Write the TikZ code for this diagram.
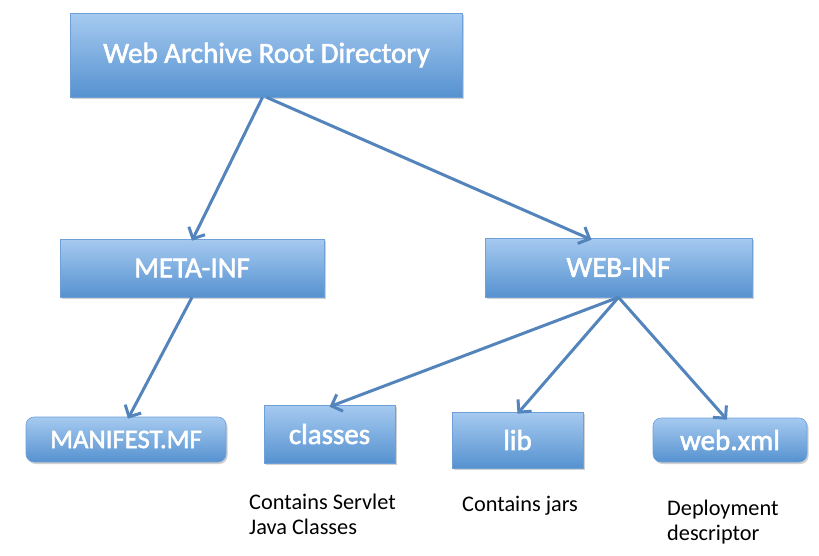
\documentclass[tikz,border=0pt]{standalone}
\usepackage{fontspec}
\setmainfont{Carlito}
\newfontfamily\boxfont[FakeBold=2]{Carlito}
\usetikzlibrary{arrows.meta,shadows,calc}
\definecolor{boxtop}{RGB}{166,202,240}
\definecolor{boxbot}{RGB}{86,146,208}
\definecolor{boxline}{RGB}{110,160,215}
\definecolor{arrowc}{RGB}{84,132,188}
\tikzset{
  dirbox/.style={top color=boxtop, bottom color=boxbot, draw=boxline, line width=0.6pt,
    text=white, inner sep=0pt, font=\boxfont\fontsize{29}{31}\selectfont,
    drop shadow={shadow xshift=1.5pt, shadow yshift=-2pt, fill=black, opacity=0.18}},
  filebox/.style={dirbox, rounded corners=8pt},
  link/.style={draw=arrowc, line width=3pt, -{Straight Barb[length=9pt,width=18pt,line width=3pt]}},
  note/.style={text=black, align=left, font=\fontsize{22.3}{25}\selectfont, inner sep=0pt, anchor=north west}
}
\begin{document}
\begin{tikzpicture}[x=1pt,y=-1pt]
\useasboundingbox (0,0) rectangle (819,555);
\node[dirbox, minimum width=392pt, minimum height=84pt] (root) at (266.5,55) {Web Archive Root Directory};
\node[dirbox, minimum width=264pt, minimum height=58pt] (meta) at (192,268) {META-INF};
\node[dirbox, minimum width=267pt, minimum height=59pt] (webinf) at (618.5,267.5) {WEB-INF};
\node[filebox, minimum width=200pt, minimum height=45pt, font=\boxfont\fontsize{26.7}{28}\selectfont] (manifest) at (126,439.5) {MANIFEST.MF};
\node[dirbox, minimum width=131pt, minimum height=58pt] (classes) at (329.5,434) {classes};
\node[dirbox, minimum width=131pt, minimum height=56pt] (lib) at (517.5,440) {lib};
\node[filebox, minimum width=154pt, minimum height=44pt] (webxml) at (730,440) {web.xml};
\node[note] (n1) at (249,494) {Contains Servlet\\Java Classes};
\node[note] (n2) at (462,496) {Contains jars};
\node[note] (n3) at (667,500) {Deployment\\descriptor};
\draw[link] ([xshift=-4pt]root.south) -- ([yshift=-2pt]meta.north);
\draw[link] (root.south) -- ([xshift=-27pt,yshift=-2pt]webinf.north);
\draw[link] (meta.south) -- ([xshift=2pt,yshift=-2pt]manifest.north);
\draw[link] (webinf.south) -- ([yshift=-2pt]classes.north);
\draw[link] (webinf.south) -- ([yshift=-2pt]lib.north);
\draw[link] (webinf.south) -- ([xshift=-3pt,yshift=-2pt]webxml.north);
\end{tikzpicture}
\end{document}
